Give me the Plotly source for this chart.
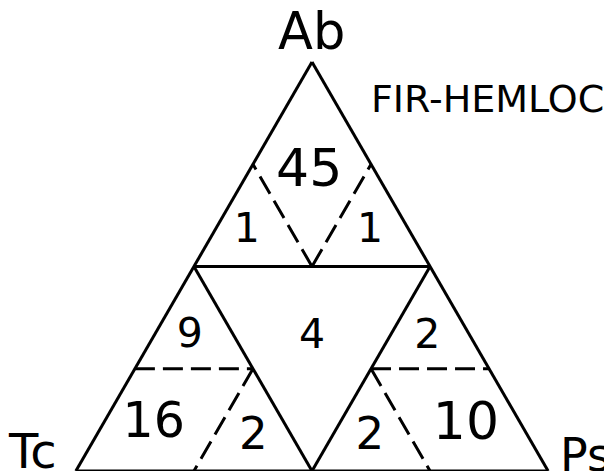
import plotly.graph_objects as go

# Region counts (FIR-HEMLOCK stands), with the ternary position (Ab, Tc, Ps) of each label
counts = ["45", "1", "1", "9", "4", "2", "16", "2", "2", "10"]
label_ab = [0.728, 0.586, 0.586, 0.328, 0.326, 0.326, 0.112, 0.081, 0.081, 0.110]
label_tc = [0.142, 0.345, 0.084, 0.595, 0.337, 0.093, 0.779, 0.584, 0.337, 0.119]
label_ps = [0.130, 0.069, 0.330, 0.077, 0.337, 0.581, 0.109, 0.335, 0.582, 0.771]
label_size = [52, 41, 41, 41, 41, 41, 49, 45, 45, 52]

# Solid class boundaries (Ab=0.5, Tc=0.5, Ps=0.5), segments separated by None
solid_ab = [0.5, 0.5, None, 0.5, 0.0, None, 0.5, 0.0]
solid_tc = [0.5, 0.0, None, 0.5, 0.5, None, 0.0, 0.5]
solid_ps = [0.0, 0.5, None, 0.0, 0.5, None, 0.5, 0.5]

# Dashed sub-class boundaries (0.25 lines)
dash_ab = [0.5, 0.75, None, 0.5, 0.75, None, 0.25, 0.25, None, 0.25, 0.0, None, 0.25, 0.25, None, 0.25, 0.0]
dash_tc = [0.25, 0.25, None, 0.25, 0.0, None, 0.75, 0.5, None, 0.5, 0.75, None, 0.25, 0.0, None, 0.25, 0.25]
dash_ps = [0.25, 0.0, None, 0.25, 0.25, None, 0.0, 0.25, None, 0.25, 0.25, None, 0.5, 0.75, None, 0.5, 0.75]

FONT = "DejaVu Sans"

fig = go.Figure()
fig.add_trace(go.Scatterternary(a=solid_ab, b=solid_tc, c=solid_ps, mode="lines",
                                line=dict(color="black", width=3), hoverinfo="skip",
                                showlegend=False))
fig.add_trace(go.Scatterternary(a=dash_ab, b=dash_tc, c=dash_ps, mode="lines",
                                line=dict(color="black", width=3, dash="20px,8px"),
                                hoverinfo="skip", showlegend=False))
fig.add_trace(go.Scatterternary(a=label_ab, b=label_tc, c=label_ps, mode="text",
                                text=counts, textposition="middle center",
                                textfont=dict(family=FONT, size=label_size, color="black"),
                                cliponaxis=False, hoverinfo="skip", showlegend=False))

axis_style = dict(showticklabels=False, ticks="", showgrid=False, showline=True,
                  linecolor="black", linewidth=3, title=dict(text=""))

# The page body adds an 8px offset, so the figure is 8px smaller and the margins shifted.
fig.update_layout(
    width=604, height=463,
    margin=dict(l=66, r=62, t=54, b=0),
    paper_bgcolor="white",
    ternary=dict(bgcolor="white", sum=1,
                 aaxis=axis_style, baxis=axis_style, caxis=axis_style),
    annotations=[
        dict(text="Ab", x=0.498, y=1.074, xref="paper", yref="paper", showarrow=False,
             xanchor="center", yanchor="middle", font=dict(family=FONT, size=51, color="black")),
        dict(text="Tc", x=-0.087, y=0.048, xref="paper", yref="paper", showarrow=False,
             xanchor="center", yanchor="middle", font=dict(family=FONT, size=48, color="black")),
        dict(text="Ps", x=1.074, y=0.038, xref="paper", yref="paper", showarrow=False,
             xanchor="center", yanchor="middle", font=dict(family=FONT, size=46, color="black")),
        dict(text="FIR-HEMLOCK", x=0.619, y=0.909, xref="paper", yref="paper", showarrow=False,
             xanchor="left", yanchor="middle", font=dict(family=FONT, size=38, color="black")),
    ],
)

fig.write_html("out.html")
